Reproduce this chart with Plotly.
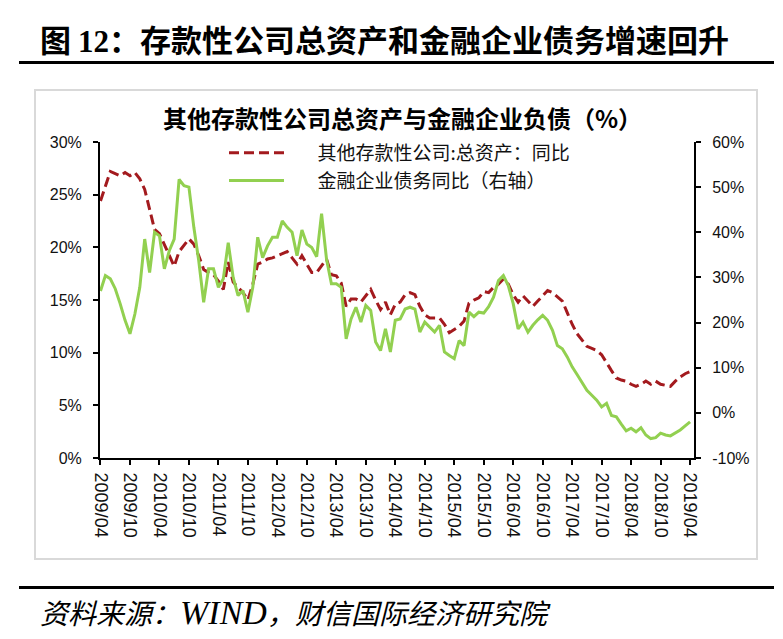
import plotly.graph_objects as go

# ---------------- data ----------------
months = [f"{y}/{m:02d}" for y in range(2009, 2020) for m in range(1, 13)][3:3 + 121]  # 2009/04 .. 2019/04

deposit_assets_yoy = [
    24.4, 25.8, 27.2, 27.0, 26.8, 27.1, 26.8, 27.1, 26.5, 25.5,
    23.6, 21.7, 21.3, 20.3, 19.2, 18.2, 19.6, 20.2, 20.8, 20.3,
    19.2, 17.9, 17.6, 17.4, 16.8, 16.0, 18.6, 16.7, 16.2, 15.7,
    15.0, 16.5, 18.4, 18.6, 18.9, 19.0, 19.2, 19.4, 19.6, 19.0,
    18.4, 19.2, 18.4, 17.6, 17.6, 18.2, 18.9, 17.4, 17.3, 16.6,
    14.4, 15.1, 15.1, 14.8, 15.4, 16.0, 15.0, 14.1, 14.8, 13.6,
    14.6, 14.8, 15.5, 15.7, 15.5, 14.4, 13.6, 13.3, 13.3, 13.3,
    12.7, 11.9, 12.2, 12.5, 13.0, 14.7, 15.0, 15.2, 15.8, 15.7,
    16.2, 16.5, 17.0, 16.5, 15.5, 14.8, 15.4, 14.9, 14.4, 14.9,
    15.4, 15.9, 15.7, 15.3, 14.9, 13.8, 12.7, 11.8, 11.2, 10.6,
    10.4, 10.2, 9.8, 9.0, 8.3, 7.6, 7.4, 7.3, 7.0, 6.8,
    7.0, 7.3, 7.0, 7.3, 7.0, 6.9, 6.8, 7.3, 7.7, 8.0,
    8.2,
]

fin_debt_yoy = [
    27.0, 30.4, 29.7, 27.5, 24.2, 20.5, 17.5, 21.9, 27.8, 38.5,
    31.1, 40.0, 39.2, 31.9, 35.9, 38.5, 51.7, 50.3, 50.0, 41.1,
    33.7, 24.5, 31.9, 31.9, 27.8, 29.7, 37.7, 30.0, 26.0, 27.1,
    22.3, 27.8, 38.9, 34.4, 37.0, 38.9, 38.9, 42.5, 41.1, 40.0,
    34.8, 40.5, 37.4, 36.6, 34.6, 44.1, 34.1, 28.6, 28.6, 27.8,
    16.4, 20.8, 23.4, 20.1, 23.8, 22.7, 15.7, 13.8, 18.6, 13.5,
    20.5, 20.8, 23.0, 23.4, 23.0, 17.9, 20.1, 19.0, 17.9, 19.4,
    13.5, 12.7, 12.0, 16.0, 14.9, 22.3, 21.3, 22.3, 22.1, 23.5,
    25.6, 29.3, 30.4, 28.2, 24.2, 18.6, 20.1, 17.9, 19.4, 20.6,
    21.6, 20.5, 18.3, 14.9, 14.2, 12.4, 10.2, 8.5, 6.8, 5.0,
    3.9, 2.8, 1.3, 2.1, -0.6, -0.9, -2.5, -4.0, -3.4, -4.2,
    -3.3, -4.9, -5.7, -5.5, -4.5, -4.9, -5.1, -4.5, -3.8, -2.9,
    -2.0,
]

x_tick_labels = months[::6]
left_tick_vals = [0, 5, 10, 15, 20, 25, 30]
left_tick_text = ["0%", "5%", "10%", "15%", "20%", "25%", "30%"]
right_tick_vals = [-10, 0, 10, 20, 30, 40, 50, 60]
right_tick_text = ["-10%", "0%", "10%", "20%", "30%", "40%", "50%", "60%"]

series_names = ["其他存款性公司:总资产：同比", "金融企业债务同比（右轴）"]
header_text = "图 <span style='font-family:Liberation Serif'>12</span>：存款性公司总资产和金融企业债务增速回升"
chart_title = "其他存款性公司总资产与金融企业负债（%）"
footer_text = ("资料来源：<span style='font-family:Liberation Serif;font-size:34px'>WIND</span>"
               "，财信国际经济研究院")

# ---------------- geometry (page pixels; page has an 8px body margin) ----------------
OFF = 8
W, H = 783 - OFF, 639 - OFF
PL, PR, PT, PB = 100, 694, 142, 458  # plot area, page pixels


def px(xp):
    return (xp - PL) / (PR - PL)


def py(yp):
    return (PB - yp) / (PB - PT)


CJK = "Noto Sans CJK SC"
NUM = "Liberation Sans"
RED = "#A31A1E"
GREEN = "#92D050"
PAD = "\u2003\u2002"

fig = go.Figure()
fig.add_trace(go.Scatter(
    x=months, y=deposit_assets_yoy, name=PAD + series_names[0], mode="lines",
    line=dict(color=RED, width=3, dash="10px,5px"), yaxis="y", legendgroup="a",
))
fig.add_trace(go.Scatter(
    x=months, y=fin_debt_yoy, name=PAD + series_names[1], mode="lines",
    line=dict(color=GREEN, width=3), yaxis="y2", legendgroup="b",
))

axis_common = dict(showgrid=False, zeroline=False, showline=True, linecolor="black",
                   linewidth=2, ticks="outside", ticklen=5, tickcolor="black", tickwidth=1.5)

fig.update_layout(
    width=W, height=H,
    margin=dict(l=PL - OFF, r=W - (PR - OFF), t=PT - OFF, b=H - (PB - OFF), pad=0),
    paper_bgcolor="white", plot_bgcolor="white",
    showlegend=True,
    legend=dict(x=px(224), y=py(134), xanchor="left", yanchor="top",
                font=dict(family=CJK, size=19, color="#111"),
                bgcolor="rgba(0,0,0,0)", tracegroupgap=14, itemwidth=55,
                traceorder="normal"),
    xaxis=dict(type="category", range=[-0.1, 120.8], tickmode="array",
               tickvals=x_tick_labels, ticktext=x_tick_labels, tickangle=90,
               tickfont=dict(family=NUM, size=18, color="#111"), ticklabelstandoff=4,
               **axis_common),
    yaxis=dict(range=[0, 30], tickmode="array", tickvals=left_tick_vals, ticktext=left_tick_text,
               tickfont=dict(family=NUM, size=16, color="#111"), ticklabelstandoff=8,
               **axis_common),
    yaxis2=dict(range=[-10, 60], overlaying="y", side="right", tickmode="array",
                tickvals=right_tick_vals, ticktext=right_tick_text,
                tickfont=dict(family=NUM, size=16, color="#111"), ticklabelstandoff=8,
                **axis_common),
)

shapes = [
    dict(type="line", xref="paper", yref="paper", x0=px(19), x1=px(774), y0=py(62.5), y1=py(62.5),
         line=dict(color="black", width=3)),
    dict(type="line", xref="paper", yref="paper", x0=px(19), x1=px(774), y0=py(587.5), y1=py(587.5),
         line=dict(color="black", width=3)),
    dict(type="rect", xref="paper", yref="paper", x0=px(35), x1=px(757), y0=py(90), y1=py(559),
         line=dict(color="#d9d9d9", width=2), layer="below"),
]
fig.update_layout(shapes=shapes)

annotations = [
    dict(text=f"<b>{header_text}</b>", xref="paper", yref="paper", x=px(38), y=py(38),
         xanchor="left", yanchor="middle", showarrow=False,
         font=dict(family=CJK, size=31, color="black")),
    dict(text=f"<b>{chart_title}</b>", xref="paper", yref="paper", x=px(402), y=py(117.5),
         xanchor="center", yanchor="middle", showarrow=False,
         font=dict(family=CJK, size=24, color="black")),
    dict(text=f"<i>{footer_text}</i>", xref="paper", yref="paper", x=px(38), y=py(612),
         xanchor="left", yanchor="middle", showarrow=False,
         font=dict(family=CJK, size=28, color="black")),
]
fig.update_layout(annotations=annotations)

fig.write_html("out.html")
